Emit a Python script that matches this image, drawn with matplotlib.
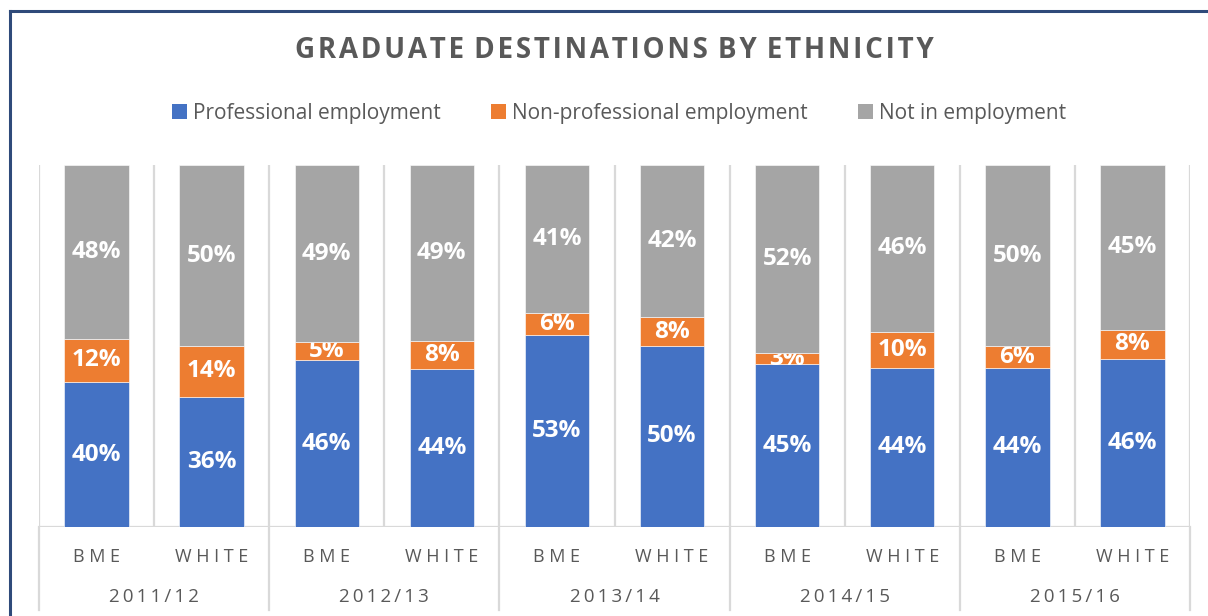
import matplotlib
matplotlib.use('Agg')
import matplotlib.pyplot as plt
import matplotlib.transforms as mtransforms
from matplotlib.lines import Line2D
from matplotlib.patches import Patch
import numpy as np

# ---- data ----
years = ['2011/12', '2012/13', '2013/14', '2014/15', '2015/16']
groups = ['BME', 'WHITE']
professional = [40, 36, 46, 44, 53, 50, 45, 44, 44, 46]
non_professional = [12, 14, 5, 8, 6, 8, 3, 10, 6, 8]
not_employed = [48, 50, 49, 49, 41, 42, 52, 46, 50, 45]
series_names = ['Professional employment', 'Non-professional employment', 'Not in employment']
colors = ['#4472C4', '#ED7D31', '#A5A5A5']

FONT = ['Open Sans', 'DejaVu Sans']
TXT = '#595959'
GRID = '#D9D9D9'
TS = '\u2009'
HS = '\u200a'


def spaced(s, gap=TS, word='   '):
    return word.join(gap.join(list(w)) for w in s.split(' '))


W, H = 1208, 616
fig = plt.figure(figsize=(W / 100, H / 100), dpi=100)
fig.patch.set_facecolor('white')

x0, x1, yb, yt = 39, 1190, 527, 165
ax = fig.add_axes([x0 / W, 1 - yb / H, (x1 - x0) / W, (yb - yt) / H])

series = [professional, non_professional, not_employed]
totals = np.sum(series, axis=0)
n = len(professional)
x = np.arange(n)
bottom = np.zeros(n)
for vals, name, col in zip(series, series_names, colors):
    frac = np.array(vals) / totals
    bars = ax.bar(x, frac, width=0.56, bottom=bottom, color=col, label=name,
                  edgecolor='white', linewidth=0.4, zorder=3)
    ax.bar_label(bars, labels=[f'{v}%' for v in vals], label_type='center',
                 color='white', fontsize=17.5, fontweight='bold', family=FONT)
    bottom += frac

ax.set_xlim(-0.5, n - 0.5)
ax.set_ylim(0, 1)
for s in ax.spines.values():
    s.set_visible(False)
ax.set_yticks([])

# gridlines
for i in range(n + 1):
    ax.axvline(i - 0.5, color=GRID, lw=1.6, zorder=1)
ax.axhline(0, color=GRID, lw=1.6, zorder=1)
trans = mtransforms.blended_transform_factory(ax.transData, ax.transAxes)
ext = -(610 - yb) / (yb - yt)
for i in range(0, n + 1, 2):
    ax.add_line(Line2D([i - 0.5, i - 0.5], [0, ext], transform=trans,
                       color=GRID, lw=1.6, clip_on=False))

# category labels
ax.set_xticks(x, [spaced(groups[i % 2], gap=' ') for i in range(n)])
ax.tick_params(axis='x', length=0, pad=15, labelsize=13, labelcolor=TXT)
for lab in ax.get_xticklabels():
    lab.set_family(FONT)
ylab = -(597 - yb) / (yb - yt)
for j, yr in enumerate(years):
    ax.text(2 * j + 0.5, ylab, spaced(yr, gap=TS), transform=trans, ha='center',
            va='center', fontsize=13.5, color=TXT, family=FONT)

# title
fig.text(614 / W, 1 - 51 / H, spaced('GRADUATE DESTINATIONS BY ETHNICITY', gap=HS, word=' ' + HS),
         ha='center', va='center', fontsize=20, fontweight='bold', color=TXT, family=FONT)

# legend
handles = [Patch(facecolor=c) for c in colors]
fig.legend(handles, series_names, loc='center', bbox_to_anchor=(619 / W, 1 - 113 / H),
           ncol=3, frameon=False, prop={'family': FONT, 'size': 15},
           labelcolor=TXT, handlelength=0.72, handleheight=0.72, handletextpad=0.3,
           columnspacing=2.4)

# outer border (left and top)
fig.add_artist(Line2D([10 / W, 10 / W], [0, 1 - 11 / H], transform=fig.transFigure,
                      color='#2F4A7A', lw=2.2))
fig.add_artist(Line2D([10 / W, 1], [1 - 11 / H, 1 - 11 / H], transform=fig.transFigure,
                      color='#2F4A7A', lw=2.2))

fig.savefig('out.png', dpi=100)
